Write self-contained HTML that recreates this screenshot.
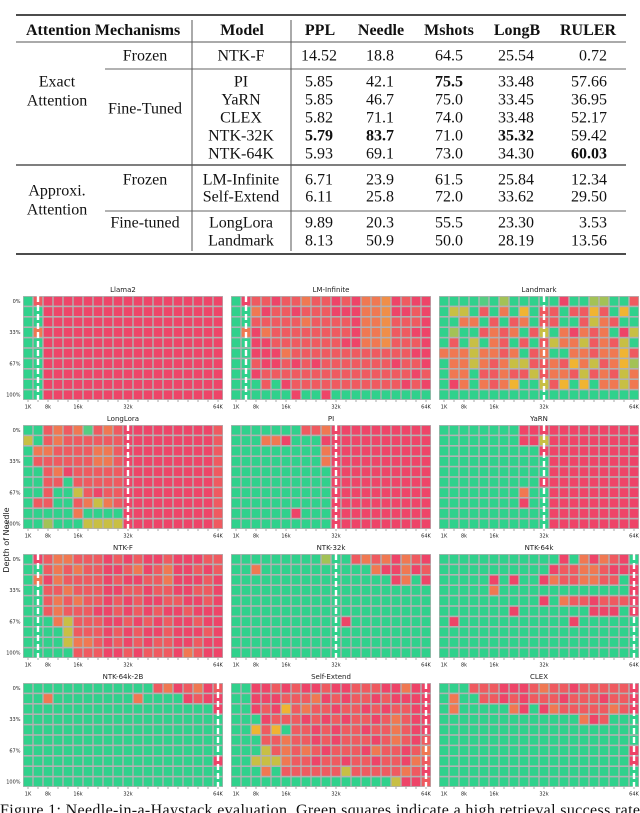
<!DOCTYPE html>
<html><head><meta charset="utf-8">
<style>
html,body{margin:0;padding:0;background:#fff;}
svg{display:block;}
.t{font-family:"Liberation Serif",serif;font-size:16px;fill:#111;}
.b{font-weight:bold;}
.s{font-family:"DejaVu Sans","Liberation Sans",sans-serif;fill:#222;}
</style></head>
<body>
<svg id="root" width="640" height="813" viewBox="0 0 640 813" xmlns="http://www.w3.org/2000/svg">
<g>
  <line x1="16" y1="15" x2="626" y2="15" stroke="#111" stroke-width="1.6"/>
  <line x1="16" y1="42" x2="626" y2="42" stroke="#555" stroke-width="1"/>
  <line x1="105" y1="69" x2="626" y2="69" stroke="#666" stroke-width="1"/>
  <line x1="16" y1="165" x2="626" y2="165" stroke="#555" stroke-width="1.6"/>
  <line x1="105" y1="211" x2="626" y2="211" stroke="#666" stroke-width="1"/>
  <line x1="16" y1="254" x2="626" y2="254" stroke="#111" stroke-width="1.6"/>
  <line x1="192" y1="20" x2="192" y2="251" stroke="#555" stroke-width="1"/>
  <line x1="291" y1="20" x2="291" y2="251" stroke="#555" stroke-width="1"/>
  <g id="tbl"></g>
</g>
<g id="maps"></g>
<text class="s" x="9" y="540" font-size="8" text-anchor="middle" transform="rotate(-90 9 540)">Depth of Needle</text>
<text class="t" x="0" y="815" textLength="640" lengthAdjust="spacing">Figure 1: Needle-in-a-Haystack evaluation. Green squares indicate a high retrieval success rate</text>
</svg>
<script>
const NS="http://www.w3.org/2000/svg";
// ---- table data ----
const tableHeaders=["Attention Mechanisms","Model","PPL","Needle","Mshots","LongB","RULER"];
const tableModels=["NTK-F","PI","YaRN","CLEX","NTK-32K","NTK-64K","LM-Infinite","Self-Extend","LongLora","Landmark"];
const colPPL=["14.52","5.85","5.85","5.82","5.79","5.93","6.71","6.11","9.89","8.13"];
const colNeedle=["18.8","42.1","46.7","71.1","83.7","69.1","23.9","25.8","20.3","50.9"];
const colMshots=["64.5","75.5","75.0","74.0","71.0","73.0","61.5","72.0","55.5","50.0"];
const colLongB=["25.54","33.48","33.45","33.48","35.32","34.30","25.84","33.62","23.30","28.19"];
const colRULER=["0.72","57.66","36.95","52.17","59.42","60.03","12.34","29.50","3.53","13.56"];
const boldCells=[[4,2],[4,3],[1,4],[4,5],[5,6]];
const rowY=[55,81,99,117,135,153,179,196,222,240];
const tbl=document.getElementById('tbl');
function txt(parent,x,y,s,anchor,cls,name){
  const t=document.createElementNS(NS,'text');
  t.setAttribute('x',x);t.setAttribute('y',y);
  t.setAttribute('text-anchor',anchor);t.setAttribute('class',cls);
  t.textContent=s;
  
  
  parent.appendChild(t);return t;
}
const hx=[[26,'start'],[242,'middle'],[320,'middle'],[381,'middle'],[449,'middle'],[517,'middle'],[588,'middle']];
tableHeaders.forEach((h,i)=>txt(tbl,hx[i][0],35,h,hx[i][1],'t b','header-'+h.toLowerCase().replace(/ /g,'-')));
const groupLabels=[["Exact",57,81],["Attention",57,100],["Approxi.",57,190],["Attention",57,209],["Frozen",145,55],["Fine-Tuned",145,108],["Frozen",145,179],["Fine-tuned",145,222]];
groupLabels.forEach(g=>txt(tbl,g[1],g[2]+5.5,g[0],'middle','t','group-label'));
const cols=[colPPL,colNeedle,colMshots,colLongB,colRULER];
const cx=[[319,'middle'],[380,'middle'],[449,'middle'],[516,'middle'],[607,'end']];
tableModels.forEach((m,r)=>{
  txt(tbl,241,rowY[r]+5.5,m,'middle','t','model-'+m.toLowerCase());
  cols.forEach((c,j)=>{
    const bold=boldCells.some(b=>b[0]===r&&b[1]===j+2);
    txt(tbl,cx[j][0],rowY[r]+5.5,c[r],cx[j][1],bold?'t b':'t','cell-'+tableHeaders[j+2].toLowerCase());
  });
});
// ---- heatmap data ----
const panelTitles=["Llama2","LM-Infinite","Landmark","LongLora","PI","YaRN","NTK-F","NTK-32k","NTK-64k","NTK-64k-2B","Self-Extend","CLEX"];
const xTickLabels=["1K","8k","16k","32k","64K"];
const xTickCols=[0,2,5,10,19];
const yTickLabels=["0%","33%","67%","100%"];
const yTickRows=[0,3,6,9];
const trainCols=[1,1,10,10,10,10,1,10,19,19,19,19];
const llama2=["92111111111111111111","99111111111111111111","99111111111111111111","93111111111111111111","99111111111111111111","99111111111111111111","99111111111111111111","99111111111111111111","99111111111111111111","99111111111111111111"];
const lmInfinite=["91221223221213341211","99312212221113341121","99222223222213342221","93132222222213342211","99112222222113342221","99111322222222222211","99211212122222221221","99122222222222222212","99929122222222222121","99999919919999999999"];
const landmark=["99998979999919977992","96692939592292252959","99339292392299263299","97992323926931323916","92969329292633623269","33363323923993323352","93363236622325362357","93392232262332623263","91393235996259593363","99999999999999999999"];
const longLora=["99232382321111111112","69232222221111111112","93322223321111111112","92222223321111111112","99231222221111111112","99229222221111111112","99299621221111111112","92299236321111111112","99999399991111111112","99799966661111111112"];
const pi=["99999992231111111111","99933199911111111111","99999999931111111111","99999999931111111111","99999999991111111111","99999999991111111111","99999999991111111111","99999999991111111111","99999919991111111111","99999999991111111111"];
const yarn=["99999999111111111111","99999999116111111111","99999999991111111111","99999999999111111111","99999999999111111111","99999999991111111111","99999999399111111111","99999999199111111111","99999999999111111111","99999999999111111111"];
const ntkF=["91233222121211211122","99232322112312311212","93132222121122311121","99223222112212211221","99232322121211221121","99232221121212112111","99936222112121211211","99996222121211211121","99996332121212211211","99999222112122213211"];
const ntk32k=["99999999979923231321","99399999999999311312","99999999999999991391","99999999999999999999","99999999999999999999","99999999999999999999","99999999999199999999","99999999999999999999","99999999999999999999","99999999999999999999"];
const ntk64k=["99999999999919313219","99999999999122332111","99999191991322332291","99999399999999999991","99999999991932212221","99999991999999911191","91999999999991999999","99999999999999999999","99999999999999999999","99999999999999999999"];
const ntk64k2b=["99999999999992312312","99399999999399991211","99999999999999999991","99999999999999999999","99999999999999999999","99999999999999999999","99999999999999999999","99999999999999999991","99999999999999999999","99999999999999999999"];
const selfExtend=["99112121121122211311","99111222312122121111","99121523221221212211","99912221212122123211","99525922121221223211","99922322121222123212","99962323212221322123","99666322122122122132","99939222222622222321","99999999999999996112"];
const clex=["99922211123221222221","93992212122212221221","93999993191322222321","99999999999999312999","99999999999999999999","99999999999999999999","99999999999999999991","99999999999999999991","99999999999999999999","99999999999999999999"];
const panelData=[llama2,lmInfinite,landmark,longLora,pi,yarn,ntkF,ntk32k,ntk64k,ntk64k2b,selfExtend,clex];
const palette=["#e8305f","#ee4468","#ef5a60","#f07852","#f08e48","#f0b432","#c8bf44","#a3c256","#55cd82","#30d18c"];
const panelX0=[23,231,439], panelY0=[296,425,554,683], PW=200, PH=104, NC=20, NR=10;
const maps=document.getElementById('maps');
function el(tag,attrs,parent){const e=document.createElementNS(NS,tag);for(const k in attrs)e.setAttribute(k,attrs[k]);parent.appendChild(e);return e;}
panelData.forEach((data,p)=>{
  const ox=panelX0[p%3], oy=panelY0[Math.floor(p/3)];
  const xs=c=>ox+c*PW/NC, ys=r=>oy+r*PH/NR;
  const g=el('g',{},maps);
  
  
  const bg=el('rect',{x:ox,y:oy,width:PW,height:PH,fill:'#b2b2b2'},g);
  
  
  data.forEach((row,r)=>{
    for(let c=0;c<NC;c++){
      const v=+row[c];
      const cell=el('rect',{x:xs(c)+0.7,y:ys(r)+0.8,width:PW/NC-1.4,height:PH/NR-1.6,fill:palette[v]},g);
      
      
    }
  });
  const dx=xs(trainCols[p]+0.5);
  const dl=el('line',{x1:dx,y1:oy,x2:dx,y2:oy+PH,stroke:'#fff','stroke-width':2.4,'stroke-dasharray':'6,3'},g);
  
  
  const tt=txt(g,ox+PW/2,oy-4,panelTitles[p],'middle','s','panel-title');
  tt.setAttribute('font-size','7');
  for(let c=0;c<NC;c++){
    const tk=el('line',{x1:xs(c+0.5),y1:oy+PH,x2:xs(c+0.5),y2:oy+PH+2,stroke:'#555','stroke-width':0.5},g);
    
    
  }
  xTickLabels.forEach((lab,i)=>{
    const t=txt(g,xs(xTickCols[i]+0.5),oy+PH+8.5,lab,'middle','s','x-tick-label');
    t.setAttribute('font-size','5');
  });
  if(p%3===0){
    yTickLabels.forEach((lab,i)=>{
      const t=txt(g,ox-2.5,ys(yTickRows[i]+0.5)+1.8,lab,'end','s','y-tick-label');
      t.setAttribute('font-size','5');
    });
  }
});
</script>
</body></html>
